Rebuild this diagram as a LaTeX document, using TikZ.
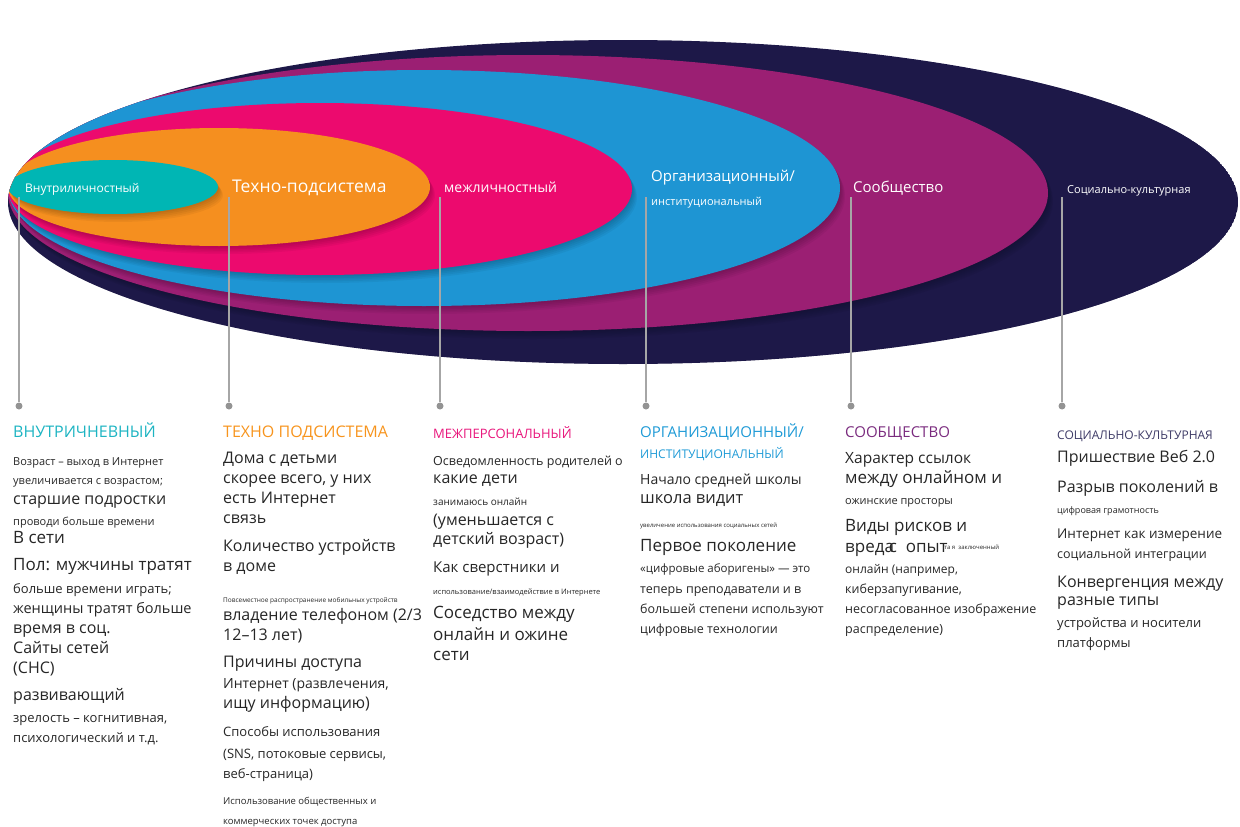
\documentclass[tikz,border=0pt]{standalone}
\usepackage{fontspec}
\setmainfont{Open Sans}
\usepackage{tikz}
\definecolor{navy}{HTML}{1D1848}
\definecolor{plum}{HTML}{9B1F73}
\definecolor{sky}{HTML}{1E95D3}
\definecolor{rose}{HTML}{EC0A6E}
\definecolor{amber}{HTML}{F58F1F}
\definecolor{teal}{HTML}{00B6B4}
\definecolor{ink}{HTML}{262626}
\definecolor{tealhd}{HTML}{1DB4C2}
\definecolor{amberhd}{HTML}{F7941D}
\definecolor{rosehd}{HTML}{E8157B}
\definecolor{skyhd}{HTML}{1E9AD6}
\definecolor{plumhd}{HTML}{7A2B7E}
\definecolor{navyhd}{HTML}{3D3A66}
\newcommand\fs[1]{\fontsize{#1}{#1}\selectfont}
\tikzset{
  txt/.style={anchor=west, inner sep=0pt, text=ink, text height=1em, text depth=0pt},
  lbl/.style={txt, text=white},
  guide/.style={draw=gray!70, line width=1.2pt},
  dot/.style={circle, fill=gray!85, inner sep=0pt, minimum size=7pt}
}
\begin{document}
\begin{tikzpicture}[x=1pt,y=-1pt]
\useasboundingbox (0,0) rectangle (1240,827);
%\draw[help lines,step=50] (0,0) grid (1240,827);

% nested ellipses, largest first, each with a soft shadow
\begin{scope}
\clip (623,202) ellipse [x radius=615, y radius=162];
\foreach \cx/\cy/\rx/\ry/\col in {623/202/615/162/navy, 528/193/520/138/plum, 424/188/416/118/sky,
  320/189/312/86/rose, 219/187/211/59/amber, 113/187/105/27/teal}{
  \foreach \k in {1,...,5}{
    \fill[black, opacity=.045] (\cx+\k,\cy+1.6*\k) ellipse [x radius=\rx, y radius=\ry];
  }
  \fill[\col] (\cx,\cy) ellipse [x radius=\rx, y radius=\ry];
}
\end{scope}

% labels inside the ellipses
\node[lbl, font=\fs{12}] (l1) at (25,187) {Внутриличностный};
\node[lbl, font=\fs{17.5}] (l2) at (232,187) {Техно-подсистема};
\node[lbl, font=\fs{14}] (l3) at (444,187) {межличностный};
\node[lbl, font=\fs{15}] (l4) at (651,176) {Организационный/};
\node[lbl, font=\fs{11}] (l4b) at (651,200) {институциональный};
\node[lbl, font=\fs{15}] (l5) at (853,187) {Сообщество};
\node[lbl, font=\fs{11}] (l6) at (1067,188) {Социально-культурная};

% guide lines down to the columns
\foreach \x [count=\i] in {19,229,440,646,851,1062}{
  \coordinate (top\i) at (\x,197);
  \node[dot] (d\i) at (\x,406) {};
  \draw[guide] (top\i) -- (d\i);
}

% column headings
\node[txt, text=tealhd, font=\fs{16}] (h1) at (13,432) {ВНУТРИЧНЕВНЫЙ};
\node[txt, text=amberhd, font=\fs{16}] (h2) at (223,432) {ТЕХНО ПОДСИСТЕМА};
\node[txt, text=rosehd, font=\fs{13}] (h3) at (433,433) {МЕЖПЕРСОНАЛЬНЫЙ};
\node[txt, text=skyhd, font=\fs{15}] (h4) at (640,432) {ОРГАНИЗАЦИОННЫЙ/};
\node[txt, text=skyhd, font=\fs{12}] (h4b) at (640,453) {ИНСТИТУЦИОНАЛЬНЫЙ};
\node[txt, text=plumhd, font=\fs{15}] (h5) at (845,432) {СООБЩЕСТВО};
\node[txt, text=navyhd, font=\fs{12}] (h6) at (1057,434) {СОЦИАЛЬНО-КУЛЬТУРНАЯ};

% column texts: y / size / line
\foreach \y/\s/\t [count=\i] in {460/11/{Возраст – выход в Интернет}, 479/11/{увеличивается с возрастом;},
  499/16/{старшие подростки}, 520/11/{проводи больше времени}, 538/17/{В сети},
  565/17/{Пол: мужчины тратят}, 588/13/{больше времени играть;}, 608/14.5/{женщины тратят больше},
  628/16/{время в соц.}, 648/16/{Сайты сетей}, 668/16/{(СНС)}, 695/16/{развивающий},
  717/13/{зрелость – когнитивная,}, 737/13/{психологический и т.д.}}
  \node[txt, font=\fs{\s}] (a\i) at (13,\y) {\t};

\foreach \y/\s/\t [count=\i] in {458/16/{Дома с детьми}, 478/16/{скорее всего, у них},
  498/16/{есть Интернет}, 518/16/{связь}, 546/16/{Количество устройств}, 566/16/{в доме},
  597/6.5/{Повсеместное распространение мобильных устройств}, 615/16/{владение телефоном (2/3},
  635/16/{12–13 лет)}, 662/16/{Причины доступа}, 683/14/{Интернет (развлечения,},
  703/16/{ищу информацию)}, 731/13/{Способы использования}, 753/13/{(SNS, потоковые сервисы,},
  773/13/{веб-страница)}, 799/9.5/{Использование общественных и}, 819/9.5/{коммерческих точек доступа}}
  \node[txt, font=\fs{\s}] (b\i) at (223,\y) {\t};

\foreach \y/\s/\t [count=\i] in {460/12.5/{Осведомленность родителей о}, 478/16/{какие дети},
  500/10/{занимаюсь онлайн}, 520/16/{(уменьшается с}, 539/16/{детский возраст)},
  567/15/{Как сверстники и}, 589/7.5/{использование/взаимодействие в Интернете},
  613/17/{Соседство между}, 635/17/{онлайн и ожине}, 655/17/{сети}}
  \node[txt, font=\fs{\s}] (c\i) at (433,\y) {\t};

\foreach \y/\s/\t [count=\i] in {479/14/{Начало средней школы}, 498/16.5/{школа видит},
  522/6/{увеличение использования социальных сетей}, 546/17/{Первое поколение},
  567/11.5/{«цифровые аборигены» — это}, 588/12.5/{теперь преподаватели и в},
  608/12.5/{большей степени используют}, 628/12.5/{цифровые технологии}}
  \node[txt, font=\fs{\s}] (e\i) at (640,\y) {\t};

\foreach \y/\s/\t [count=\i] in {458/15.5/{Характер ссылок}, 478/17/{между онлайном и},
  499/11/{ожинские просторы}, 526/17/{Виды рисков и},
  547/17/{вреда\kern-.3emс\ \ опыт\kern-.2em\raisebox{3pt}{\fs{6}та я\ \ заключенный}},
  568/12/{онлайн (например,}, 588/12.5/{киберзапугивание,}, 608/12.5/{несогласованное изображение},
  628/12.5/{распределение)}}
  \node[txt, font=\fs{\s}] (f\i) at (845,\y) {\t};

\foreach \y/\s/\t [count=\i] in {457/16/{Пришествие Веб 2.0}, 487/16/{Разрыв поколений в},
  508/9/{цифровая грамотность}, 533/13.5/{Интернет как измерение}, 553/12.5/{социальной интеграции},
  582/16/{Конвергенция между}, 600/16/{разные типы}, 622/13/{устройства и носители},
  642/13/{платформы}}
  \node[txt, font=\fs{\s}] (g\i) at (1057,\y) {\t};
\end{tikzpicture}
\end{document}
